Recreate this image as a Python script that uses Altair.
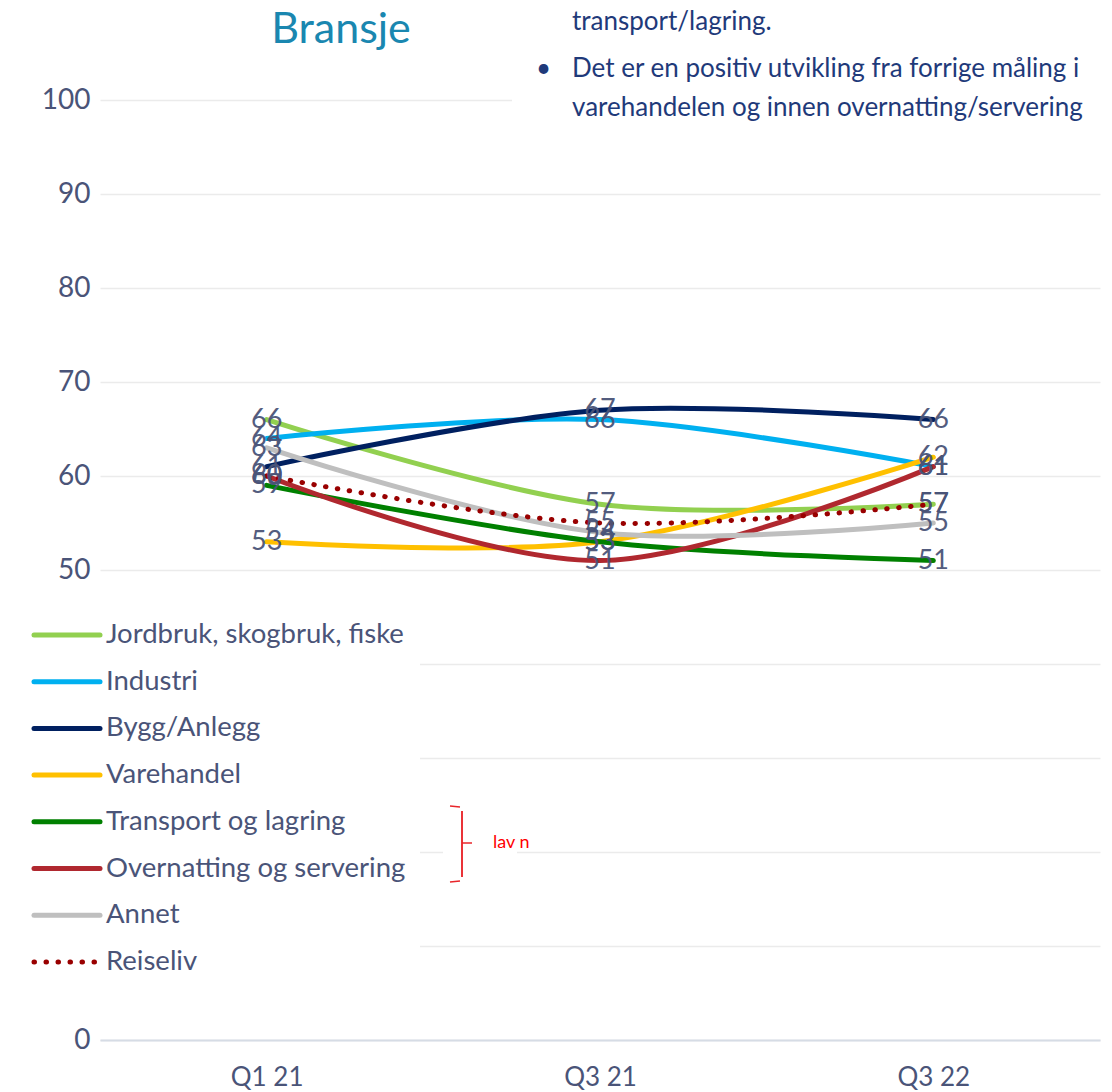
import altair as alt
import pandas as pd

quarters = ["Q1 21", "Q3 21", "Q3 22"]
series = ["Jordbruk, skogbruk, fiske", "Industri", "Bygg/Anlegg", "Varehandel",
          "Transport og lagring", "Overnatting og servering", "Annet", "Reiseliv"]
colors = ["#92D050", "#00B0F0", "#002060", "#FFC000", "#008000", "#B0282F", "#BFBFBF", "#990000"]

jordbruk = [66, 57, 57]
industri = [64, 66, 61]
bygg = [61, 67, 66]
varehandel = [53, 53, 62]
transport = [59, 53, 51]
overnatting = [60, 51, 61]
annet = [63, 54, 55]
reiseliv = [60, 55, 57]

y_ticks = [0, 10, 20, 30, 40, 50, 60, 70, 80, 90, 100]

all_vals = [jordbruk, industri, bygg, varehandel, transport, overnatting, annet, reiseliv]
rows = []
for s, vals in zip(series, all_vals):
    for q, v in zip(quarters, vals):
        rows.append({"serie": s, "kvartal": q, "verdi": v})
df = pd.DataFrame(rows)
legend_df = pd.DataFrame({"serie": series, "idx": list(range(len(series)))})

FONT = "Lato"
TXT = "#4A5478"

color_scale = alt.Scale(domain=series, range=colors)
x_enc = alt.X("kvartal:N", sort=quarters, scale=alt.Scale(type="point", padding=0.5),
              axis=alt.Axis(title=None, labelAngle=0, ticks=False, grid=False,
                            domainColor="#D6DCE5", domainWidth=2, labelPadding=24,
                            labelFontSize=26, labelColor=TXT, labelFont=FONT))
y_enc = alt.Y("verdi:Q", scale=alt.Scale(domain=[0, 100], nice=False),
              axis=alt.Axis(title=None, values=y_ticks, domain=False, ticks=False,
                            gridColor="#EBEBEB", gridWidth=1.5, labelPadding=10,
                            labelFontSize=28, labelColor=TXT, labelFont=FONT, zindex=0,
                            labelExpr="(datum.value > 0 && datum.value < 50) ? '' : datum.label"))

base = alt.Chart(df)

solid = base.transform_filter(alt.datum.serie != "Reiseliv").mark_line(
    interpolate="catmull-rom", strokeWidth=5, strokeCap="round").encode(
    x=x_enc, y=y_enc,
    color=alt.Color("serie:N", scale=color_scale, legend=None, sort=series),
    order=alt.Order("kvartal:N"))

dotted = base.transform_filter(alt.datum.serie == "Reiseliv").mark_line(
    interpolate="catmull-rom", strokeWidth=5, strokeCap="round", strokeDash=[0.5, 11.5]).encode(
    x=x_enc, y=y_enc, color=alt.Color("serie:N", scale=color_scale, legend=None))

labels = base.mark_text(fontSize=27, font=FONT, color=TXT, opacity=0.95,
                        align="center", baseline="middle").encode(
    x=x_enc, y=y_enc, text=alt.Text("verdi:Q"))

one = alt.Data(values=[{}])

# white legend box
legend_box = alt.Chart(one).mark_rect(color="white").encode(
    x=alt.value(-100), x2=alt.value(320), y=alt.value(500), y2=alt.value(900))
# white box behind top right text
text_box = alt.Chart(one).mark_rect(color="white").encode(
    x=alt.value(412), x2=alt.value(1012), y=alt.value(-100), y2=alt.value(26))
lav_box = alt.Chart(one).mark_rect(color="white").encode(
    x=alt.value(343), x2=alt.value(417), y=alt.value(735), y2=alt.value(770))

leg = alt.Chart(legend_df).transform_calculate(ly="535 + datum.idx * 46.7")
leg_solid = leg.transform_filter(alt.datum.serie != "Reiseliv").mark_rule(
    strokeWidth=5, strokeCap="round").encode(
    x=alt.value(-66), x2=alt.value(0), y=alt.Y("ly:Q", scale=None),
    color=alt.Color("serie:N", scale=color_scale, legend=None))
leg_dot = leg.transform_filter(alt.datum.serie == "Reiseliv").mark_rule(
    strokeWidth=5, strokeCap="round", strokeDash=[0.5, 11.5]).encode(
    x=alt.value(-66), x2=alt.value(0), y=alt.Y("ly:Q", scale=None),
    color=alt.Color("serie:N", scale=color_scale, legend=None))
leg_text = leg.mark_text(align="left", baseline="middle", fontSize=27.5, font=FONT,
                         color=TXT).encode(
    x=alt.value(6), y=alt.Y("ly:Q", scale=None), text="serie:N")

title = alt.Chart(one).mark_text(text="Bransje", fontSize=43, font=FONT, color="#1A87B0",
                                 align="center", baseline="middle").encode(
    x=alt.value(241), y=alt.value(-70))

notes = pd.DataFrame({
    "t": ["transport/lagring.", "•", "Det er en positiv utvikling fra forrige måling i",
          "varehandelen og innen overnatting/servering"],
    "px": [472, 436, 472, 472],
    "py": [-78, -31, -31, 8],
})
note_text = alt.Chart(notes).mark_text(align="left", baseline="middle", fontSize=26,
                                       font=FONT, color="#1F3A7A").encode(
    x=alt.X("px:Q", scale=None), y=alt.Y("py:Q", scale=None), text="t:N")

RED = "#E8262B"
bracket_df = pd.DataFrame({
    "x1": [350, 362, 350, 362, 362],
    "y1": [706, 711, 782, 777, 743],
    "x2": [360, 362, 360, 362, 372],
    "y2": [707, 777, 781, 711, 743],
})
bracket = alt.Chart(bracket_df).mark_rule(color=RED, strokeWidth=1.5).encode(
    x=alt.X("x1:Q", scale=None), y=alt.Y("y1:Q", scale=None),
    x2="x2:Q", y2="y2:Q")
lav = alt.Chart(one).mark_text(text="lav n", fontSize=18, font=FONT, color="#FF0000",
                               align="left", baseline="middle").encode(
    x=alt.value(393), y=alt.value(743))

chart = alt.layer(
    solid, text_box, legend_box, lav_box, dotted, labels,
    leg_solid, leg_dot, leg_text, title, note_text, bracket, lav
).properties(
    width=1000, height=940,
    autosize=alt.AutoSizeParams(type="none"),
    padding={"left": 92, "top": 92, "right": 4, "bottom": 52},
).configure_view(stroke=None)

chart.save("out.html", embed_options={"renderer": "svg", "actions": False})
